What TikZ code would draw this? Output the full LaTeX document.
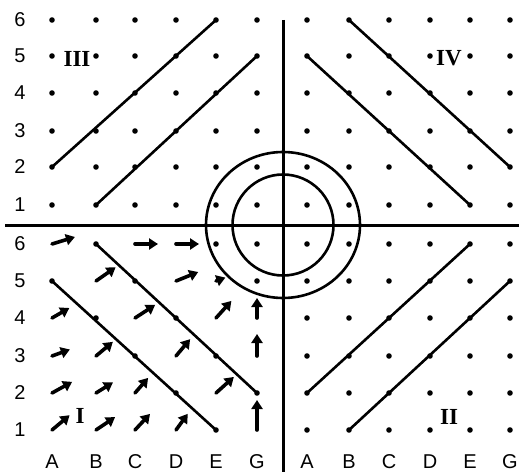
\documentclass[tikz,border=0pt]{standalone}
\usepackage{fontspec}
\setsansfont{Liberation Sans}
\newfontfamily\romfont{Liberation Serif}
\usetikzlibrary{arrows.meta}

\tikzset{
  gridline/.style={line width=2.6pt},
  axis/.style={line width=3pt},
  ring/.style={line width=2.6pt},
  vec/.style={line width=3.6pt, line cap=round, -{Triangle[length=9pt,width=11pt]}},
  lbl/.style={font=\fontsize{20}{20}\selectfont\sffamily, inner sep=0pt},
  quad/.style={font=\fontsize{23}{23}\selectfont\romfont\bfseries, inner sep=0pt}
}

\begin{document}
\begin{tikzpicture}[x=1pt,y=1pt]
    \useasboundingbox (0,0) rectangle (519,472);

    % Grid points of the four quadrants
    \foreach \c/\xl/\xr in {A/52/307,B/96/349,C/135/389,D/176/430,E/216/470,G/257/510}{
        \foreach \r/\yt/\yb in {6/452/228,5/416/191,4/379/154,3/341/116,2/305/79,1/267/42}{
            \coordinate (q3-\c\r) at (\xl,\yt);
            \coordinate (q4-\c\r) at (\xr,\yt);
            \coordinate (q1-\c\r) at (\xl,\yb);
            \coordinate (q2-\c\r) at (\xr,\yb);
        }
    }
    \coordinate (O) at (283,247);

    % Axes
    \coordinate (xw) at (5,247);
    \coordinate (xe) at (519,247);
    \coordinate (yn) at (283,452);
    \coordinate (ys) at (283,0);
    \draw[axis] (xw) -- (xe);
    \draw[axis] (yn) -- (ys);

    % Circles
    \draw[ring] (O) ellipse (77 and 73);
    \draw[ring] (O) circle (50.5);

    % Dots
    \foreach \c in {A,B,C,D,E,G}{
        \foreach \r in {1,...,6}{
            \fill (q3-\c\r) circle (2.8pt);
            \fill (q4-\c\r) circle (2.8pt);
            \fill (q2-\c\r) circle (2.8pt);
        }
    }
    \foreach \p in {B6,E6,G6,A5,C5,G5,B4,D4,C3,E3,D2,G2,E1}
        \fill (q1-\p) circle (2.8pt);

    % Lines
    \draw[gridline] (q3-A2) -- (q3-E6);
    \draw[gridline] (q3-B1) -- (q3-G5);
    \draw[gridline] (q4-B6) -- (q4-G2);
    \draw[gridline] (q4-A5) -- (q4-E1);
    \draw[gridline] (q1-A5) -- (q1-E1);
    \draw[gridline] (q1-B6) -- (q1-G2);
    \draw[gridline] (q2-A2) -- (q2-E6);
    \draw[gridline] (q2-B1) -- (q2-G5);

    % Arrows
    \foreach \p/\a/\l in {A6/17/24,C6/0/23,D6/0/23,E5/20/10,B5/35/24,D5/22/24,
        A4/30/20,C4/33/24,E4/48/23,G4/90/20,A3/20/19,B3/40/22,D3/50/22,G3/90/22,
        A2/29/23,B2/32/20,C2/49/20,E2/42/24,A1/40/23,B1/34/23,C1/47/22,D1/54/20,G1/90/30}
        \draw[vec] (q1-\p) -- ++(\a:\l);

    % Labels
    \foreach \r/\yt/\yb in {6/452/228,5/416/191,4/379/154,3/341/116,2/305/79,1/267/42}{
        \node[lbl] (rt\r) at (20,\yt) {\r};
        \node[lbl] (rb\r) at (20,\yb) {\r};
    }
    \foreach \c/\xl/\xr in {A/52/307,B/96/349,C/135/389,D/176/430,E/216/470,G/257/510}{
        \node[lbl] (cl\c) at (\xl,10) {\c};
        \node[lbl] (cr\c) at (\xr,10) {\c};
    }
    \node[quad] (qIII) at (77,413) {III};
    \node[quad] (qIV) at (449,414) {IV};
    \node[quad] (qI) at (80,56) {I};
    \node[quad] (qII) at (449,55) {II};
\end{tikzpicture}
\end{document}
